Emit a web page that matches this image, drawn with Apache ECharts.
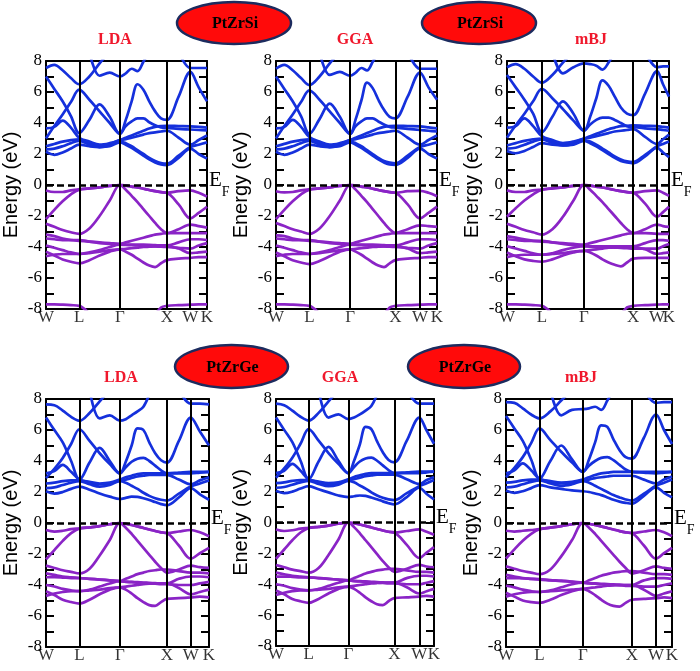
<!DOCTYPE html>
<html><head><meta charset="utf-8">
<script src="https://cdn.jsdelivr.net/npm/echarts@6/dist/echarts.min.js"></script>
<style>html,body{margin:0;padding:0;background:#fff}#c{width:700px;height:671px}</style>
</head><body><div id="c"></div><script>
const N = null;
const kLabels = ['W','L','Γ','X','W','K'];
// high-symmetry positions along the k-path for each panel
const SiLDA_k = [0, 0.707, 1.573, 2.573, 3.073, 3.427];
const SiGGA_k = [0, 0.71, 1.576, 2.54, 3.065, 3.427];
const SimBJ_k = [0, 0.737, 1.629, 2.669, 3.174, 3.427];
const GeLDA_k = [0, 0.704, 1.553, 2.543, 3.044, 3.427];
const GeGGA_k = [0, 0.709, 1.569, 2.566, 3.108, 3.427];
const GemBJ_k = [0, 0.692, 1.587, 2.597, 3.097, 3.427];
// samples: W,3,L,3,Γ,7,X,1,W,1,K  (21 values per band)
const SiLDA_cb = [
 [2.15,1.95,2.1,2.35, 2.6, 2.5,2.45,2.5, 2.75, 2.6,2.4,2.15,1.9,1.65,1.45,1.32, 1.28, 1.75, 2.35, 2.0, 1.7],
 [2.3,2.35,2.5,2.7, 2.85, 2.6,2.45,2.55, 2.8, 2.7,2.5,2.25,2.0,1.75,1.55,1.42, 1.38, 1.9, 2.45, 2.6, 2.75],
 [2.5,2.65,2.8,2.9, 2.95, 2.7,2.55,2.65, 2.9, 2.95,3.05,3.15,3.25,3.35,3.4,3.45, 3.5, 3.05, 2.6, 2.9, 3.2],
 [3.65,3.75,4.15,3.7, 3.05, 2.8,2.6,2.7, 2.9, 3.05,3.2,3.35,3.5,3.65,3.75,3.8, 3.82, 3.8, 3.78, 3.75, 3.7],
 [7.0,6.2,5.4,4.45, 3.35, 4.2,5.2,4.4, 3.3, 3.8,4.1,4.3,4.3,4.05,3.85,3.72, 3.68, 3.62, 3.58, 3.55, 3.52],
 [3.0,3.8,4.55,5.35, 6.15, 5.5,4.75,4.0, 3.3, 4.2,5.4,6.5,6.15,5.4,4.75,4.3, 4.2, 5.7, 7.3, 6.3, 5.4],
 [7.55,7.75,7.4,6.9, 6.5, 7.0,7.85,8.6, N, N,N,N,N,N,N,N, N, N, N, N, N],
 [N,N,N,N, N, 8.6,7.05,7.25, 7.0, 7.2,7.5,7.35,7.95,8.6,N,N, N, N, N, N, N],
 [N,N,N,N, N, N,N,N, N, N,N,N,N,N,N,N, N, 8.6, 7.55, 7.55, 7.55]
];
const SiLDA_vb = [
 [-0.35,-0.45,-0.45,-0.35, -0.28, -0.22,-0.15,-0.06, 0, -0.04,-0.1,-0.16,-0.24,-0.32,-0.4,-0.46, -0.5, -0.4, -0.35, -0.5, -0.75],
 [-2.2,-1.6,-1.05,-0.6, -0.3, -0.22,-0.15,-0.06, 0, -0.04,-0.1,-0.16,-0.24,-0.32,-0.4,-0.46, -0.5, -1.25, -2.15, -1.8, -1.4],
 [-2.5,-2.7,-2.9,-3.05, -3.15, -2.8,-2.0,-1.0, 0, -0.3,-0.7,-1.1,-1.55,-2.0,-2.45,-2.85, -3.1, -2.85, -2.55, -2.65, -2.75],
 [-3.2,-3.3,-3.45,-3.55, -3.6, -3.65,-3.7,-3.75, -3.8, -3.7,-3.6,-3.5,-3.4,-3.3,-3.2,-3.15, -3.1, -3.1, -3.1, -3.1, -3.1],
 [-3.45,-3.5,-3.55,-3.55, -3.55, -3.65,-3.75,-3.8, -3.85, -3.85,-3.85,-3.85,-3.85,-3.86,-3.88,-3.9, -3.9, -3.7, -3.5, -3.5, -3.55],
 [-4.6,-4.5,-4.45,-4.45, -4.45, -4.4,-4.3,-4.2, -4.15, -4.12,-4.08,-4.04,-4.0,-3.98,-3.96,-3.95, -3.95, -4.1, -4.4, -4.35, -4.3],
 [-4.3,-4.55,-4.8,-4.95, -5.05, -4.85,-4.55,-4.3, -4.15, -4.3,-4.5,-4.75,-5.0,-5.2,-5.3,-5.05, -4.85, -4.75, -4.7, -4.65, -4.65],
 [-3.9,-4.05,-4.2,-4.35, -4.45, -4.35,-4.2,-4.0, -3.85, -3.87,-3.88,-3.9,-3.92,-3.94,-3.96,-3.98, -4.0, -4.05, -4.1, -3.9, -3.75],
 [-7.7,-7.7,-7.72,-7.75, -7.8, -8.3,N,N, N, N,N,N,N,N,-8.4,-7.9, -7.8, -7.75, -7.72, -7.7, -7.7]
];
const SiGGA_cb = [
 [2.15,1.95,2.1,2.35, 2.6, 2.5,2.45,2.5, 2.75, 2.6,2.4,2.15,1.9,1.65,1.45,1.32, 1.3, 1.75, 2.35, 2.0, 1.7],
 [2.3,2.35,2.5,2.7, 2.85, 2.6,2.45,2.55, 2.8, 2.7,2.5,2.25,2.0,1.75,1.55,1.45, 1.4, 1.9, 2.45, 2.6, 2.75],
 [2.5,2.65,2.8,2.9, 2.95, 2.7,2.55,2.65, 2.9, 2.95,3.05,3.15,3.25,3.35,3.4,3.45, 3.5, 3.05, 2.6, 2.9, 3.2],
 [3.65,3.75,4.2,3.75, 3.1, 2.8,2.6,2.7, 2.9, 3.05,3.2,3.35,3.5,3.65,3.75,3.8, 3.82, 3.8, 3.78, 3.72, 3.65],
 [7.0,6.2,5.4,4.45, 3.3, 4.25,5.25,4.4, 3.3, 3.8,4.1,4.3,4.3,4.1,3.9,3.75, 3.7, 3.62, 3.55, 3.5, 3.45],
 [3.0,3.8,4.55,5.35, 6.1, 5.5,4.75,4.0, 3.3, 4.25,5.45,6.6,6.25,5.5,4.85,4.4, 4.3, 5.7, 7.25, 6.3, 5.5],
 [7.5,7.75,7.4,6.9, 6.45, 7.0,7.85,8.6, N, N,N,N,N,N,N,N, N, N, N, N, N],
 [N,N,N,N, N, 8.6,7.1,7.3, 7.05, 7.25,7.55,7.4,7.95,8.6,N,N, N, N, N, N, N],
 [N,N,N,N, N, N,N,N, N, N,N,N,N,N,N,N, N, 8.6, 7.5, 7.5, 7.5]
];
const SiGGA_vb = [
 [-0.4,-0.48,-0.45,-0.35, -0.28, -0.22,-0.15,-0.06, 0, -0.04,-0.1,-0.16,-0.24,-0.32,-0.4,-0.46, -0.5, -0.4, -0.38, -0.5, -0.72],
 [-2.2,-1.6,-1.05,-0.6, -0.3, -0.22,-0.15,-0.06, 0, -0.04,-0.1,-0.16,-0.24,-0.32,-0.4,-0.46, -0.5, -1.25, -2.15, -1.8, -1.4],
 [-2.45,-2.65,-2.85,-3.0, -3.15, -2.8,-2.0,-1.0, 0, -0.3,-0.7,-1.1,-1.55,-2.0,-2.45,-2.85, -3.1, -2.85, -2.6, -2.65, -2.7],
 [-3.25,-3.3,-3.45,-3.55, -3.6, -3.65,-3.7,-3.75, -3.8, -3.7,-3.6,-3.5,-3.4,-3.3,-3.2,-3.15, -3.1, -3.1, -3.1, -3.1, -3.1],
 [-3.45,-3.5,-3.55,-3.55, -3.55, -3.65,-3.75,-3.8, -3.85, -3.85,-3.85,-3.85,-3.85,-3.86,-3.88,-3.9, -3.9, -3.7, -3.5, -3.5, -3.55],
 [-4.6,-4.5,-4.45,-4.45, -4.45, -4.4,-4.3,-4.2, -4.15, -4.12,-4.08,-4.04,-4.0,-3.98,-3.96,-3.95, -3.95, -4.1, -4.4, -4.35, -4.3],
 [-4.35,-4.6,-4.85,-5.0, -5.1, -4.9,-4.6,-4.3, -4.15, -4.3,-4.5,-4.75,-5.0,-5.2,-5.3,-5.05, -4.85, -4.75, -4.7, -4.65, -4.65],
 [-3.9,-4.05,-4.2,-4.35, -4.45, -4.35,-4.2,-4.0, -3.85, -3.87,-3.88,-3.9,-3.92,-3.94,-3.96,-3.98, -4.0, -4.05, -4.1, -3.9, -3.75],
 [-7.7,-7.7,-7.72,-7.75, -7.8, -8.3,N,N, N, N,N,N,N,N,-8.4,-7.9, -7.8, -7.75, -7.72, -7.7, -7.7]
];
const SimBJ_cb = [
 [2.2,2.05,2.2,2.45, 2.7, 2.6,2.55,2.6, 2.85, 2.7,2.5,2.25,2.0,1.75,1.55,1.45, 1.4, 1.85, 2.4, 2.1, 1.8],
 [2.35,2.4,2.6,2.8, 2.95, 2.7,2.55,2.65, 2.9, 2.8,2.6,2.35,2.1,1.85,1.65,1.52, 1.48, 1.95, 2.5, 2.65, 2.8],
 [2.55,2.7,2.85,2.95, 3.0, 2.8,2.65,2.75, 3.0, 3.05,3.15,3.25,3.35,3.45,3.5,3.55, 3.6, 3.1, 2.65, 2.95, 3.25],
 [3.7,3.8,4.3,3.8, 3.15, 2.9,2.7,2.8, 3.0, 3.15,3.3,3.45,3.6,3.7,3.8,3.82, 3.85, 3.82, 3.8, 3.75, 3.7],
 [7.1,6.3,5.5,4.6, 3.4, 4.4,5.4,4.6, 3.5, 3.9,4.2,4.35,4.35,4.2,4.0,3.8, 3.75, 3.65, 3.6, 3.55, 3.5],
 [3.05,3.85,4.6,5.4, 6.2, 5.6,4.9,4.15, 3.5, 4.4,5.6,6.75,6.4,5.7,5.0,4.6, 4.5, 5.9, 7.35, 6.5, 5.7],
 [7.6,7.8,7.5,7.0, 6.6, 7.1,7.9,8.6, N, N,N,N,N,N,N,N, N, N, N, N, N],
 [N,N,N,N, N, 8.6,7.2,7.6, 7.85, 7.8,7.7,7.45,7.9,8.6,N,N, N, N, N, N, N],
 [N,N,N,N, N, N,N,N, N, N,N,N,N,N,N,N, N, 8.6, 7.6, 7.65, 7.65]
];
const SimBJ_vb = [
 [-0.35,-0.45,-0.45,-0.35, -0.3, -0.22,-0.15,-0.06, 0, -0.04,-0.1,-0.16,-0.24,-0.32,-0.4,-0.46, -0.5, -0.4, -0.35, -0.5, -0.7],
 [-2.05,-1.5,-1.0,-0.6, -0.3, -0.22,-0.15,-0.06, 0, -0.04,-0.1,-0.16,-0.24,-0.32,-0.4,-0.46, -0.5, -1.2, -2.05, -1.75, -1.4],
 [-2.5,-2.7,-2.9,-3.05, -3.2, -2.85,-2.05,-1.0, 0, -0.3,-0.7,-1.1,-1.55,-2.0,-2.45,-2.85, -3.1, -2.85, -2.55, -2.65, -2.7],
 [-3.3,-3.4,-3.5,-3.6, -3.65, -3.7,-3.75,-3.8, -3.85, -3.75,-3.65,-3.55,-3.45,-3.35,-3.25,-3.15, -3.1, -3.1, -3.15, -3.15, -3.15],
 [-3.5,-3.55,-3.6,-3.6, -3.6, -3.7,-3.8,-3.9, -3.95, -3.95,-3.95,-3.95,-3.95,-3.95,-3.95,-3.95, -3.95, -3.75, -3.55, -3.55, -3.6],
 [-4.65,-4.55,-4.5,-4.5, -4.5, -4.45,-4.4,-4.3, -4.25, -4.2,-4.15,-4.1,-4.05,-4.02,-4.0,-4.0, -4.0, -4.15, -4.45, -4.4, -4.35],
 [-4.35,-4.6,-4.8,-4.9, -4.95, -4.8,-4.55,-4.35, -4.25, -4.35,-4.55,-4.8,-5.0,-5.15,-5.25,-5.0, -4.75, -4.7, -4.7, -4.7, -4.7],
 [-3.95,-4.1,-4.25,-4.4, -4.5, -4.4,-4.2,-4.05, -3.95, -3.97,-3.98,-4.0,-4.02,-4.04,-4.06,-4.08, -4.1, -4.1, -4.1, -3.95, -3.8],
 [-7.7,-7.7,-7.72,-7.75, -7.8, -8.3,N,N, N, N,N,N,N,N,-8.4,-7.9, -7.8, -7.75, -7.72, -7.7, -7.7]
];
const GeLDA_cb = [
 [2.05,1.9,2.0,2.2, 2.35, 2.15,1.9,1.7, 1.55, 1.62,1.7,1.68,1.6,1.48,1.35,1.22, 1.15, 1.65, 2.25, 1.85, 1.5],
 [2.25,2.3,2.45,2.6, 2.7, 2.5,2.35,2.45, 2.7, 2.6,2.4,2.2,1.95,1.75,1.6,1.5, 1.45, 1.9, 2.35, 2.55, 2.75],
 [2.55,2.6,2.7,2.75, 2.75, 2.6,2.5,2.55, 2.75, 2.8,2.9,3.0,3.05,3.1,3.1,3.1, 3.1, 2.8, 2.5, 2.75, 2.95],
 [3.2,3.35,3.75,3.3, 2.8, 2.65,2.55,2.6, 2.8, 2.95,3.05,3.15,3.2,3.2,3.2,3.2, 3.2, 3.25, 3.3, 3.3, 3.3],
 [6.8,6.0,5.2,4.0, 2.8, 3.9,4.85,4.0, 3.2, 3.6,3.95,4.15,4.2,4.0,3.7,3.4, 3.2, 3.2, 3.2, 3.25, 3.3],
 [2.9,3.5,4.2,5.1, 6.05, 5.3,4.5,3.8, 3.2, 3.95,5.0,6.1,6.0,5.2,4.5,4.05, 3.9, 5.3, 6.8, 5.9, 5.0],
 [7.65,7.6,7.25,6.85, 6.6, 7.1,7.85,8.6, N, N,N,N,N,N,N,N, N, N, N, N, N],
 [N,N,N,N, N, 8.6,6.75,6.95, 6.6, 6.7,6.95,7.2,7.5,8.3,N,N, N, N, N, N, N],
 [N,N,N,N, N, N,N,N, N, N,N,N,N,N,N,N, N, 8.6, 7.7, 7.7, 7.65]
];
const GeLDA_vb = [
 [-0.45,-0.55,-0.5,-0.4, -0.35, -0.28,-0.2,-0.08, 0, -0.05,-0.13,-0.22,-0.32,-0.42,-0.52,-0.6, -0.65, -0.55, -0.45, -0.6, -0.85],
 [-2.35,-1.75,-1.15,-0.65, -0.35, -0.28,-0.2,-0.08, 0, -0.05,-0.13,-0.22,-0.32,-0.42,-0.52,-0.6, -0.65, -1.45, -2.3, -1.95, -1.6],
 [-2.75,-2.9,-3.05,-3.15, -3.25, -2.95,-2.1,-1.1, 0, -0.3,-0.7,-1.15,-1.6,-2.05,-2.5,-2.9, -3.2, -3.0, -2.75, -2.85, -2.9],
 [-3.25,-3.35,-3.45,-3.5, -3.55, -3.6,-3.65,-3.7, -3.75, -3.6,-3.45,-3.3,-3.2,-3.1,-3.05,-3.0, -3.0, -3.1, -3.2, -3.2, -3.25],
 [-3.5,-3.5,-3.52,-3.55, -3.55, -3.6,-3.65,-3.7, -3.75, -3.78,-3.8,-3.82,-3.84,-3.86,-3.88,-3.9, -3.9, -3.6, -3.45, -3.45, -3.5],
 [-4.7,-4.55,-4.45,-4.4, -4.4, -4.35,-4.3,-4.2, -4.15, -4.1,-4.05,-4.0,-3.95,-3.92,-3.9,-3.9, -3.9, -4.2, -4.6, -4.45, -4.3],
 [-4.4,-4.65,-4.95,-5.1, -5.2, -4.95,-4.6,-4.3, -4.15, -4.3,-4.55,-4.85,-5.1,-5.3,-5.35,-5.1, -4.9, -4.85, -4.8, -4.75, -4.8],
 [-4.0,-4.1,-4.25,-4.35, -4.4, -4.3,-4.1,-3.9, -3.75, -3.8,-3.82,-3.85,-3.87,-3.9,-3.92,-3.95, -3.95, -4.0, -4.0, -3.9, -3.8]
];
const GeGGA_cb = [
 [2.05,1.9,2.0,2.2, 2.35, 2.15,1.95,1.75, 1.65, 1.7,1.75,1.72,1.62,1.5,1.37,1.25, 1.18, 1.65, 2.25, 1.85, 1.5],
 [2.25,2.3,2.45,2.6, 2.7, 2.5,2.35,2.45, 2.7, 2.6,2.4,2.2,1.95,1.75,1.6,1.5, 1.45, 1.9, 2.35, 2.55, 2.75],
 [2.55,2.6,2.7,2.75, 2.75, 2.6,2.5,2.55, 2.75, 2.8,2.9,3.0,3.05,3.1,3.1,3.1, 3.1, 2.8, 2.5, 2.75, 2.95],
 [3.2,3.35,3.8,3.35, 2.8, 2.65,2.55,2.6, 2.8, 2.95,3.05,3.15,3.2,3.2,3.2,3.2, 3.2, 3.25, 3.3, 3.3, 3.3],
 [6.8,6.0,5.2,4.0, 2.8, 3.95,4.9,4.0, 3.2, 3.6,3.95,4.15,4.2,4.0,3.7,3.4, 3.2, 3.2, 3.2, 3.25, 3.3],
 [2.9,3.5,4.2,5.1, 6.05, 5.3,4.5,3.8, 3.2, 4.0,5.05,6.2,6.05,5.25,4.55,4.05, 3.9, 5.3, 6.8, 5.95, 5.1],
 [7.7,7.6,7.25,6.85, 6.6, 7.1,7.85,8.6, N, N,N,N,N,N,N,N, N, N, N, N, N],
 [N,N,N,N, N, 8.6,6.8,7.0, 6.7, 6.8,7.0,7.25,7.55,8.3,N,N, N, N, N, N, N],
 [N,N,N,N, N, N,N,N, N, N,N,N,N,N,N,N, N, 8.6, 7.7, 7.7, 7.7]
];
const GeGGA_vb = [
 [-0.45,-0.55,-0.5,-0.4, -0.35, -0.28,-0.2,-0.08, 0, -0.05,-0.13,-0.22,-0.32,-0.42,-0.52,-0.6, -0.65, -0.55, -0.45, -0.6, -0.8],
 [-2.35,-1.75,-1.15,-0.65, -0.35, -0.28,-0.2,-0.08, 0, -0.05,-0.13,-0.22,-0.32,-0.42,-0.52,-0.6, -0.65, -1.45, -2.3, -1.95, -1.6],
 [-2.75,-2.9,-3.05,-3.15, -3.25, -2.95,-2.1,-1.1, 0, -0.3,-0.7,-1.15,-1.6,-2.05,-2.5,-2.9, -3.2, -3.0, -2.75, -2.85, -2.9],
 [-3.25,-3.35,-3.45,-3.5, -3.55, -3.6,-3.65,-3.7, -3.75, -3.6,-3.45,-3.3,-3.2,-3.1,-3.05,-3.0, -3.0, -3.1, -3.2, -3.2, -3.25],
 [-3.5,-3.5,-3.52,-3.55, -3.55, -3.6,-3.65,-3.7, -3.75, -3.78,-3.8,-3.82,-3.84,-3.86,-3.88,-3.9, -3.9, -3.6, -3.45, -3.45, -3.5],
 [-4.7,-4.55,-4.45,-4.4, -4.4, -4.35,-4.3,-4.2, -4.15, -4.1,-4.05,-4.0,-3.95,-3.92,-3.9,-3.9, -3.9, -4.2, -4.6, -4.45, -4.3],
 [-4.4,-4.65,-4.95,-5.1, -5.2, -4.95,-4.6,-4.3, -4.15, -4.3,-4.55,-4.85,-5.1,-5.3,-5.35,-5.1, -4.9, -4.85, -4.8, -4.75, -4.8],
 [-4.0,-4.1,-4.25,-4.35, -4.4, -4.3,-4.1,-3.9, -3.75, -3.8,-3.82,-3.85,-3.87,-3.9,-3.92,-3.95, -3.95, -4.0, -4.0, -3.9, -3.8]
];
const GemBJ_cb = [
 [2.1,1.95,2.05,2.25, 2.45, 2.3,2.2,2.1, 2.05, 2.0,1.9,1.8,1.65,1.5,1.38,1.3, 1.25, 1.75, 2.3, 1.95, 1.65],
 [2.3,2.35,2.5,2.65, 2.75, 2.55,2.4,2.5, 2.7, 2.6,2.4,2.2,2.0,1.8,1.65,1.52, 1.45, 1.9, 2.4, 2.6, 2.8],
 [2.6,2.65,2.75,2.8, 2.8, 2.65,2.55,2.6, 2.75, 2.8,2.9,2.95,3.0,3.05,3.05,3.05, 3.05, 2.8, 2.55, 2.8, 3.0],
 [3.2,3.4,3.85,3.4, 2.85, 2.7,2.6,2.65, 2.8, 2.95,3.1,3.2,3.25,3.3,3.3,3.3, 3.3, 3.3, 3.3, 3.3, 3.3],
 [6.9,6.1,5.3,4.1, 2.85, 4.0,5.0,4.1, 3.3, 3.7,4.0,4.2,4.25,4.05,3.75,3.45, 3.3, 3.25, 3.2, 3.25, 3.3],
 [2.95,3.55,4.25,5.15, 6.1, 5.35,4.6,3.9, 3.3, 4.1,5.2,6.3,6.2,5.4,4.7,4.25, 4.15, 5.5, 7.0, 6.0, 5.1],
 [7.8,7.75,7.4,7.0, 6.75, 7.2,7.9,8.6, N, N,N,N,N,N,N,N, N, N, N, N, N],
 [N,N,N,N, N, 8.6,6.95,7.3, 7.35, 7.4,7.5,7.3,7.9,8.6,N,N, N, N, N, N, N],
 [N,N,N,N, N, N,N,N, N, N,N,N,N,N,N,N, N, 8.6, 7.75, 7.8, 7.8]
];
const GemBJ_vb = [
 [-0.5,-0.55,-0.5,-0.45, -0.4, -0.3,-0.2,-0.08, 0, -0.05,-0.13,-0.22,-0.32,-0.42,-0.52,-0.6, -0.65, -0.55, -0.45, -0.6, -0.85],
 [-2.3,-1.7,-1.15,-0.7, -0.4, -0.3,-0.2,-0.08, 0, -0.05,-0.13,-0.22,-0.32,-0.42,-0.52,-0.6, -0.65, -1.45, -2.3, -1.95, -1.6],
 [-2.8,-2.95,-3.1,-3.2, -3.3, -3.0,-2.15,-1.1, 0, -0.3,-0.7,-1.15,-1.6,-2.05,-2.5,-2.9, -3.25, -3.05, -2.8, -2.9, -2.95],
 [-3.35,-3.45,-3.55,-3.6, -3.65, -3.7,-3.75,-3.8, -3.85, -3.7,-3.55,-3.4,-3.3,-3.2,-3.15,-3.1, -3.1, -3.2, -3.3, -3.3, -3.35],
 [-3.55,-3.55,-3.58,-3.6, -3.62, -3.68,-3.72,-3.78, -3.85, -3.88,-3.9,-3.92,-3.94,-3.96,-3.98,-4.0, -4.0, -3.7, -3.55, -3.55, -3.6],
 [-4.75,-4.6,-4.5,-4.45, -4.45, -4.4,-4.35,-4.3, -4.25, -4.2,-4.15,-4.1,-4.05,-4.02,-4.0,-4.0, -4.0, -4.3, -4.7, -4.55, -4.4],
 [-4.5,-4.75,-5.0,-5.1, -5.15, -4.95,-4.65,-4.4, -4.25, -4.4,-4.65,-4.95,-5.2,-5.35,-5.4,-5.15, -4.95, -4.9, -4.85, -4.8, -4.85],
 [-4.05,-4.15,-4.3,-4.4, -4.45, -4.35,-4.15,-3.95, -3.85, -3.9,-3.92,-3.95,-3.97,-4.0,-4.02,-4.05, -4.05, -4.1, -4.1, -4.0, -3.9]
];
const methods = ['LDA','GGA','mBJ','LDA','GGA','mBJ'];
const compounds = ['PtZrSi','PtZrSi','PtZrGe','PtZrGe'];

// ---------- layout & style ----------
const panels = [
 {k:SiLDA_k, cb:SiLDA_cb, vb:SiLDA_vb, box:{left:46, top:61, width:161, height:248}},
 {k:SiGGA_k, cb:SiGGA_cb, vb:SiGGA_vb, box:{left:276, top:61, width:161, height:248}},
 {k:SimBJ_k, cb:SimBJ_cb, vb:SimBJ_vb, box:{left:507, top:61, width:162, height:248}},
 {k:GeLDA_k, cb:GeLDA_cb, vb:GeLDA_vb, box:{left:45, top:399, width:164, height:248}},
 {k:GeGGA_k, cb:GeGGA_cb, vb:GeGGA_vb, box:{left:276, top:399, width:158, height:247}},
 {k:GemBJ_k, cb:GemBJ_cb, vb:GemBJ_vb, box:{left:506, top:399, width:166, height:248}}
];
const titlePos = [[115,40],[355,40],[591,40],[121,378],[340,378],[581,378]];
const ellipsePos = [[234,23,57,21],[479,23,57,21],[231.5,366.5,56.5,21.5],[464,366.5,56,21.5]];
const SERIF = '"Liberation Serif","Times New Roman",serif';
const SANS = '"Liberation Sans",Arial,sans-serif';
const BLUE = '#1530dc', PURPLE = '#8a24c6';
const SEG = [3,3,7,1,1];
function kGrid(t){ const g=[t[0]]; for(let s=0;s<5;s++){ const n=SEG[s]+1; for(let j=1;j<=n;j++) g.push(t[s]+(t[s+1]-t[s])*j/n);} return g; }

const grids=[], xAxes=[], yAxes=[], series=[];
const axisLineStyle = {show:true, onZero:false, lineStyle:{color:'#000', width:2}};
panels.forEach((p,i)=>{
  grids.push(Object.assign({containLabel:false}, p.box));
  const kg = kGrid(p.k);
  const kmax = p.k[5];
  xAxes.push({type:'value', gridIndex:i, min:0, max:kmax, position:'bottom', axisLine:axisLineStyle,
    axisTick:{show:false}, splitLine:{show:false}, axisLabel:{show:false}});
  xAxes.push({type:'value', gridIndex:i, min:0, max:kmax, position:'top', axisLine:axisLineStyle,
    axisTick:{show:false}, axisLabel:{show:false}, splitLine:{show:false}});
  const tick = {show:true, inside:true, length:8, lineStyle:{color:'#000', width:2}};
  yAxes.push({type:'value', gridIndex:i, min:-8, max:8, interval:1, position:'left', axisLine:axisLineStyle,
    axisTick:tick, splitLine:{show:false},
    axisLabel:{margin:4, color:'#000', fontFamily:SERIF, fontSize:17, formatter:v=> (v%2===0? String(v):'')},
    name:'Energy (eV)', nameLocation:'middle', nameGap:25,
    nameTextStyle:{color:'#000', fontFamily:SANS, fontSize:20}});
  yAxes.push({type:'value', gridIndex:i, min:-8, max:8, interval:1, position:'right', axisLine:axisLineStyle,
    axisTick:tick, splitLine:{show:false}, axisLabel:{show:false}});
  const xi=2*i, yi=2*i;
  // symmetry lines and Fermi level
  series.push({type:'line', xAxisIndex:xi, yAxisIndex:yi, data:[], silent:true, z:1, animation:false,
    markLine:{silent:true, symbol:['none','none'], animation:false,
      data: p.k.slice(1,5).map(t=>({xAxis:t, lineStyle:{color:'#000', width:2, type:'solid'}, label:{show:false}}))
        .concat([{yAxis:0, lineStyle:{color:'#000', width:2.5, type:[7,4]},
          label:{show:true, position:'end', distance:2, formatter:'{e|E}{f|F}',
            rich:{e:{fontFamily:SERIF, fontSize:21, color:'#000', padding:[0,0,10,0]},
                  f:{fontFamily:SERIF, fontSize:14, color:'#000', padding:[14,0,0,0]}}}}])}});
  // high-symmetry point labels under the k axis
  series.push({type:'scatter', xAxisIndex:xi, yAxisIndex:yi, silent:true, animation:false, z:5, clip:false,
    symbolSize:1, itemStyle:{color:'rgba(0,0,0,0)'},
    label:{show:true, position:'bottom', distance:0, color:'#000', fontFamily:SERIF, fontSize:17,
      formatter:(d)=>kLabels[d.dataIndex]},
    data: p.k.map(t=>[t,-8])});
  const add = (bands,color)=>bands.forEach(b=>{
    series.push({type:'line', xAxisIndex:xi, yAxisIndex:yi, smooth:0.35, showSymbol:false, silent:true,
      animation:false, z:3, clip:true, lineStyle:{color:color, width:2.7},
      data: kg.map((k,j)=>[k, b[j]==null?'-':b[j]])});
  });
  add(p.cb, BLUE);
  add(p.vb, PURPLE);
});

const graphic = [];
ellipsePos.forEach((e,i)=>{
  graphic.push({type:'ellipse', shape:{cx:e[0], cy:e[1], rx:e[2], ry:e[3]}, style:{fill:'#ff0a0a', stroke:'#1c2b5e', lineWidth:2.5}, z:10});
  graphic.push({type:'text', x:e[0]+1, y:e[1]+1, z:11, style:{text:compounds[i], fill:'#000', font:'bold 16px '+SERIF,
    align:'center', verticalAlign:'middle', textAlign:'center', textVerticalAlign:'middle'}});
});
titlePos.forEach((t,i)=>{
  graphic.push({type:'text', x:t[0], y:t[1], z:11, style:{text:methods[i], fill:'#f0182c', font:'bold 16px '+SERIF,
    align:'center', verticalAlign:'middle', textAlign:'center', textVerticalAlign:'middle'}});
});

const chart = echarts.init(document.getElementById('c'), null, {renderer:'canvas'});
chart.setOption({animation:false, backgroundColor:'#fff', grid:grids, xAxis:xAxes, yAxis:yAxes, series:series, graphic:graphic});
</script></body></html>
